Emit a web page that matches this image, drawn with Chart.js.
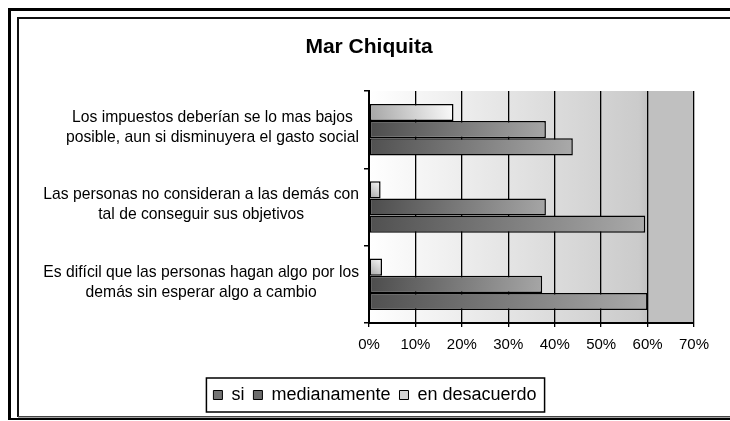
<!DOCTYPE html>
<html><head><meta charset="utf-8">
<script src="https://cdn.jsdelivr.net/npm/chart.js@4.4.0/dist/chart.umd.min.js"></script>
<style>html,body{margin:0;padding:0;background:#fff;overflow:hidden}</style>
</head><body>
<canvas id="c" width="730" height="421"></canvas>
<script>
const categories = [
  ["Los impuestos deberían se lo mas bajos", "posible, aun si disminuyera el gasto social"],
  ["Las personas no consideran a las demás con", "tal de conseguir sus objetivos"],
  ["Es difícil que las personas hagan algo por los", "demás sin esperar algo a cambio"]
];
const seriesNames = ["en desacuerdo", "medianamente", "si"];
const enDesacuerdo = [18.2, 2.5, 2.8];
const medianamente = [38.1, 38.1, 37.3];
const si = [43.9, 59.5, 60.0];
const xTickLabels = ["0%", "10%", "20%", "30%", "40%", "50%", "60%", "70%"];
const titleText = "Mar Chiquita";

const FONT = '"Liberation Sans", Arial, sans-serif';
const CAT_PCT = 0.667;

function barGradient(c, stops, diagUp) {
  const chart = c.chart;
  const ca = chart.chartArea;
  if (!ca || c.type !== 'data') return stops[0];
  const xs = chart.scales.x, ys = chart.scales.y;
  const x0 = xs.getPixelForValue(0), x1 = xs.getPixelForValue(c.raw);
  const step = ys.getPixelForValue(1) - ys.getPixelForValue(0);
  const bh = step * CAT_PCT / 3;
  const yc = ys.getPixelForValue(c.dataIndex) + (c.datasetIndex - 1) * bh;
  const g = diagUp
    ? chart.ctx.createLinearGradient(x0, yc + bh / 2, x1, yc - bh / 2)
    : chart.ctx.createLinearGradient(x0, yc - bh / 2, x1, yc + bh / 2);
  g.addColorStop(0, stops[0]);
  g.addColorStop(1, stops[1]);
  return g;
}

const legendFill = ['#d4d4d4', '#6c6c6c', '#747474'];

const framePlugin = {
  id: 'frame',
  beforeDraw(chart) {
    const ctx = chart.ctx;
    ctx.save();
    ctx.fillStyle = '#fff';
    ctx.fillRect(0, 0, chart.width, chart.height);
    ctx.strokeStyle = '#000';
    ctx.lineWidth = 3;
    ctx.beginPath();
    ctx.moveTo(9.5, 420); ctx.lineTo(9.5, 9.5); ctx.lineTo(740, 9.5);
    ctx.stroke();
    ctx.lineWidth = 2;
    ctx.beginPath(); ctx.moveTo(8, 419); ctx.lineTo(740, 419); ctx.stroke();
    ctx.lineWidth = 2;
    ctx.strokeStyle = '#111';
    ctx.beginPath();
    ctx.moveTo(18, 417); ctx.lineTo(18, 18); ctx.lineTo(740, 18);
    ctx.stroke();
    ctx.strokeStyle = '#444';
    ctx.lineWidth = 1.5;
    ctx.beginPath(); ctx.moveTo(18, 416.8); ctx.lineTo(740, 416.8); ctx.stroke();
    const a = chart.chartArea;
    const g = ctx.createLinearGradient(a.left, 0, a.right, 0);
    g.addColorStop(0, '#ffffff');
    g.addColorStop(0.83, '#cbcbcb');
    g.addColorStop(0.86, '#c0c0c0');
    g.addColorStop(1, '#c0c0c0');
    ctx.fillStyle = g;
    ctx.fillRect(a.left, a.top, a.right - a.left, a.bottom - a.top);
    ctx.restore();
  }
};

const labelPlugin = {
  id: 'catLabels',
  afterLayout(chart) {
    if (chart.titleBlock && !chart.titleBlock._shifted) {
      chart.titleBlock.left -= 12;
      chart.titleBlock._shifted = true;
    }
  },
  afterDraw(chart) {
    const ctx = chart.ctx;
    const ys = chart.scales.y;
    ctx.save();
    ctx.font = '15.7px ' + FONT;
    ctx.fillStyle = '#000';
    ctx.textAlign = 'center';
    ctx.textBaseline = 'middle';
    chart.data.labels.forEach((lines, i) => {
      const yc = ys.getPixelForTick(i) - 2;
      const w = Math.max(...lines.map(l => ctx.measureText(l).width));
      const cx = chart.chartArea.left - 10 - w / 2;
      const lh = 20;
      lines.forEach((l, j) => ctx.fillText(l, cx, yc + (j - (lines.length - 1) / 2) * lh));
    });
    const hb = chart.legend.legendHitBoxes;
    if (hb && hb.length) {
      const l = Math.min(...hb.map(h => h.left)) - 7;
      const r = Math.max(...hb.map(h => h.left + h.width)) + 8;
      const t = hb[0].top - 8;
      const b = hb[0].top + hb[0].height + 8;
      ctx.strokeStyle = '#000';
      ctx.lineWidth = 1.5;
      ctx.strokeRect(l, t, r - l, b - t);
    }
    ctx.restore();
  }
};

new Chart(document.getElementById('c'), {
  type: 'bar',
  data: {
    labels: categories,
    datasets: [
      { label: seriesNames[0], data: enDesacuerdo,
        backgroundColor: c => barGradient(c, ['#a4a4a4', '#fbfbfb'], true) },
      { label: seriesNames[1], data: medianamente,
        backgroundColor: c => barGradient(c, ['#4c4c4c', '#a6a6a6'], false) },
      { label: seriesNames[2], data: si,
        backgroundColor: c => barGradient(c, ['#505050', '#aaaaaa'], false) }
    ]
  },
  options: {
    indexAxis: 'y',
    responsive: false,
    animation: false,
    devicePixelRatio: 1,
    layout: { padding: { left: 20, right: 0, top: 20, bottom: 7 } },
    datasets: { bar: { borderColor: '#000', borderWidth: 1.5, borderSkipped: false,
      categoryPercentage: CAT_PCT, barPercentage: 1 } },
    scales: {
      x: {
        min: 0, max: 70,
        ticks: { stepSize: 10, color: '#000', font: { family: FONT, size: 15 }, padding: 9,
          callback: (v, i) => xTickLabels[i] },
        grid: { color: '#000', lineWidth: 1.3, tickLength: 4, drawTicks: true },
        border: { color: '#000', width: 2 },
        afterFit(s) { s.height = 54; s.paddingRight = 36; s.paddingLeft = 0; }
      },
      y: {
        ticks: { display: false },
        grid: { drawOnChartArea: false, drawTicks: true, tickLength: 5, color: '#000', lineWidth: 1.5, offset: true },
        border: { color: '#000', width: 2 },
        afterFit(s) { s.width = 349; s.paddingTop = 0; s.paddingBottom = 0; }
      }
    },
    plugins: {
      title: { display: true, text: titleText, color: '#000',
        font: { family: FONT, size: 21, weight: 'bold' }, padding: { top: 15, bottom: 30.8 } },
      legend: {
        position: 'bottom', reverse: true,
        labels: {
          color: '#000', font: { family: FONT, size: 18 }, boxWidth: 9, boxHeight: 9, padding: 9,
          generateLabels: chart => chart.data.datasets.map((ds, i) => ({
            text: ds.label, fillStyle: legendFill[i], strokeStyle: '#000', lineWidth: 1,
            datasetIndex: i, hidden: false, fontColor: '#000'
          }))
        }
      },
      tooltip: { enabled: false }
    }
  },
  plugins: [framePlugin, labelPlugin]
});
</script>
</body></html>
